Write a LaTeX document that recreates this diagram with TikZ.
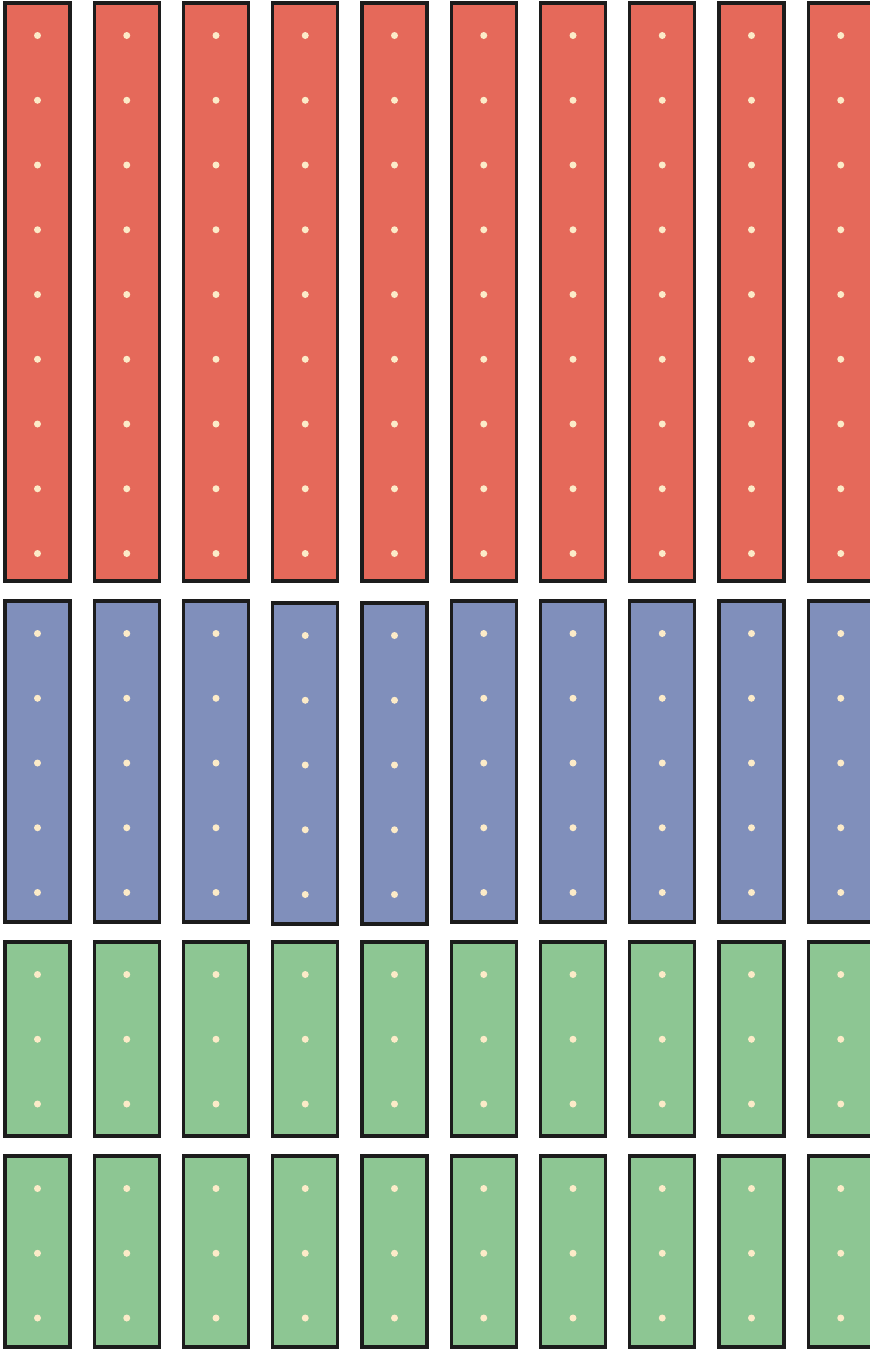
\documentclass[tikz,border=0pt]{standalone}
\usepackage{tikz}
\usetikzlibrary{positioning}

\definecolor{barred}{HTML}{E5695A}
\definecolor{barblue}{HTML}{808FBB}
\definecolor{bargreen}{HTML}{8DC693}
\definecolor{barline}{HTML}{1C1C1C}
\definecolor{pipcolor}{HTML}{FCEBC8}

\begin{document}
\begin{tikzpicture}[x=1pt, y=-1pt, outer sep=0pt,
    bar/.style={draw=barline, line width=3.3pt, rectangle, minimum width=65pt, inner sep=0pt, anchor=north west},
    pip/.style={circle, fill=pipcolor, draw=none, inner sep=0pt, minimum size=7pt}]
    \useasboundingbox (0,0) rectangle (870,1350);
    \clip (0,0) rectangle (870,1350);

    % block: index / fill / top / height / number of pips
    \foreach \r/\fillc/\top/\h/\n in {1/barred/3/578/9, 2/barblue/601/321/5, 3/bargreen/942/194/3, 4/bargreen/1156/191/3} {
        \foreach \c in {0,...,9} {
            \pgfmathsetmacro\xl{5+89.25*\c}
            \pgfmathsetmacro\xm{\xl+32.5}
            \pgfmathsetmacro\yt{\top+(\r==2)*((\c==3)+(\c==4))*2}
            \node (bar-\r-\c) [bar, fill=\fillc, minimum height=\h pt] at (\xl,\yt) {};
            \foreach \k in {1,...,\n} {
                \pgfmathsetmacro\ym{\yt+32.5+(\k-1)*64.75}
                \node (pip-\r-\c-\k) [pip] at (\xm,\ym) {};
            }
        }
    }
\end{tikzpicture}
\end{document}
